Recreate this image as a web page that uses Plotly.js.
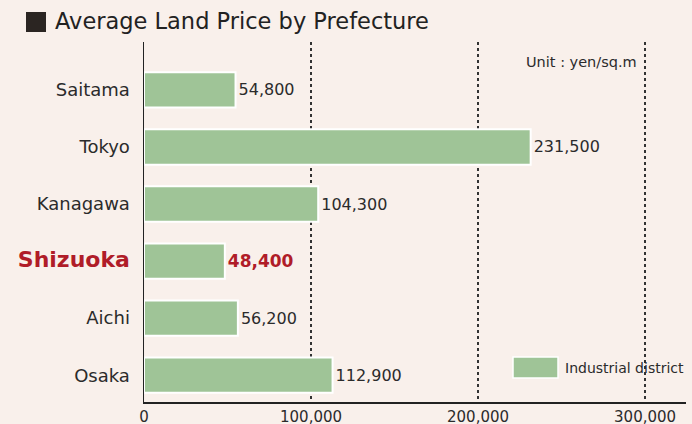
<!DOCTYPE html>
<html>
<head>
<meta charset="utf-8">
<script src="https://cdn.plot.ly/plotly-3.0.1.min.js"></script>
<style>html,body{margin:0;padding:0;background:#f9f0eb;}#chart{width:692px;height:424px;}</style>
</head>
<body>
<div id="chart"></div>
<script>
const categories = ['Saitama', 'Tokyo', 'Kanagawa', 'Shizuoka', 'Aichi', 'Osaka'];
const values = [54800, 231500, 104300, 48400, 56200, 112900];
const xTickVals = [0, 100000, 200000, 300000];
const xTickText = ['0', '100,000', '200,000', '300,000'];
const highlight = 'Shizuoka';
const seriesName = 'Industrial district';

const FONT = 'DejaVu Sans, sans-serif';
const BAR = '#9fc497';
const RED = '#b01c28';
const TXT = '#2b2b2b';

const labels = values.map(v => v.toLocaleString('en-US'));
const textColors = categories.map(c => c === highlight ? RED : TXT);
const textSizes = categories.map(c => c === highlight ? 17 : 16);
const labelText = labels.map((t, i) => categories[i] === highlight ? '<b>' + t + '</b>' : t);
const tickText = categories.map(c => c === highlight
  ? '<span style="color:' + RED + ';font-size:22px"><b>' + c + '</b></span>' : c);

const trace = {
  type: 'bar',
  orientation: 'h',
  x: values,
  y: categories,
  name: seriesName,
  width: 0.62,
  marker: {color: BAR, line: {color: '#ffffff', width: 2}},
  text: labelText,
  textposition: 'outside',
  constraintext: 'none',
  cliponaxis: false,
  textfont: {family: FONT, color: textColors, size: textSizes},
  hoverinfo: 'skip',
  showlegend: false
};

const layout = {
  width: 692, height: 424,
  margin: {l: 144, r: 6, t: 42, b: 22, pad: 0},
  paper_bgcolor: '#f9f0eb',
  plot_bgcolor: '#f9f0eb',
  font: {family: FONT, color: TXT},
  title: {
    text: 'Average Land Price by Prefecture',
    font: {family: FONT, size: 22.5, color: '#222'},
    xref: 'container', x: 55/692, xanchor: 'left',
    yref: 'container', y: 1 - 21/424, yanchor: 'middle'
  },
  xaxis: {
    range: [0, 324500],
    tickvals: xTickVals, ticktext: xTickText,
    tickfont: {family: FONT, size: 15, color: TXT},
    showgrid: true, gridcolor: '#333333', griddash: 'dot', gridwidth: 1.5,
    zeroline: false,
    showline: true, linecolor: '#222', linewidth: 1.5,
    ticks: '', fixedrange: true
  },
  yaxis: {
    type: 'category',
    range: [5.47, -0.84],
    tickvals: categories, ticktext: tickText,
    tickfont: {family: FONT, size: 18, color: TXT},
    ticks: 'outside', ticklen: 9, tickcolor: 'rgba(0,0,0,0)',
    showgrid: false, zeroline: false,
    showline: true, linecolor: '#222', linewidth: 1.5,
    fixedrange: true
  },
  shapes: [
    {type: 'rect', xref: 'paper', yref: 'paper',
     x0: (26-144)/542, x1: (46-144)/542, y0: (402-32)/360, y1: (402-12)/360,
     fillcolor: '#2b2522', line: {width: 0}},
    {type: 'rect', xref: 'paper', yref: 'paper', layer: 'above',
     x0: (513-144)/542, x1: (558-144)/542, y0: (402-378)/360, y1: (402-357)/360,
     fillcolor: BAR, line: {color: '#ffffff', width: 1.5}}
  ],
  annotations: [
    {text: 'Unit : yen/sq.m', xref: 'paper', yref: 'paper',
     x: (639-144)/542, xanchor: 'right', y: (402-62)/360, yanchor: 'middle',
     showarrow: false, font: {family: FONT, size: 14.5, color: TXT}},
    {text: seriesName, xref: 'paper', yref: 'paper',
     x: (563-144)/542, xanchor: 'left', y: (402-368)/360, yanchor: 'middle',
     showarrow: false, font: {family: FONT, size: 14, color: TXT}}
  ],
  showlegend: false
};

Plotly.newPlot('chart', [trace], layout, {displayModeBar: false, staticPlot: true});
</script>
</body>
</html>
